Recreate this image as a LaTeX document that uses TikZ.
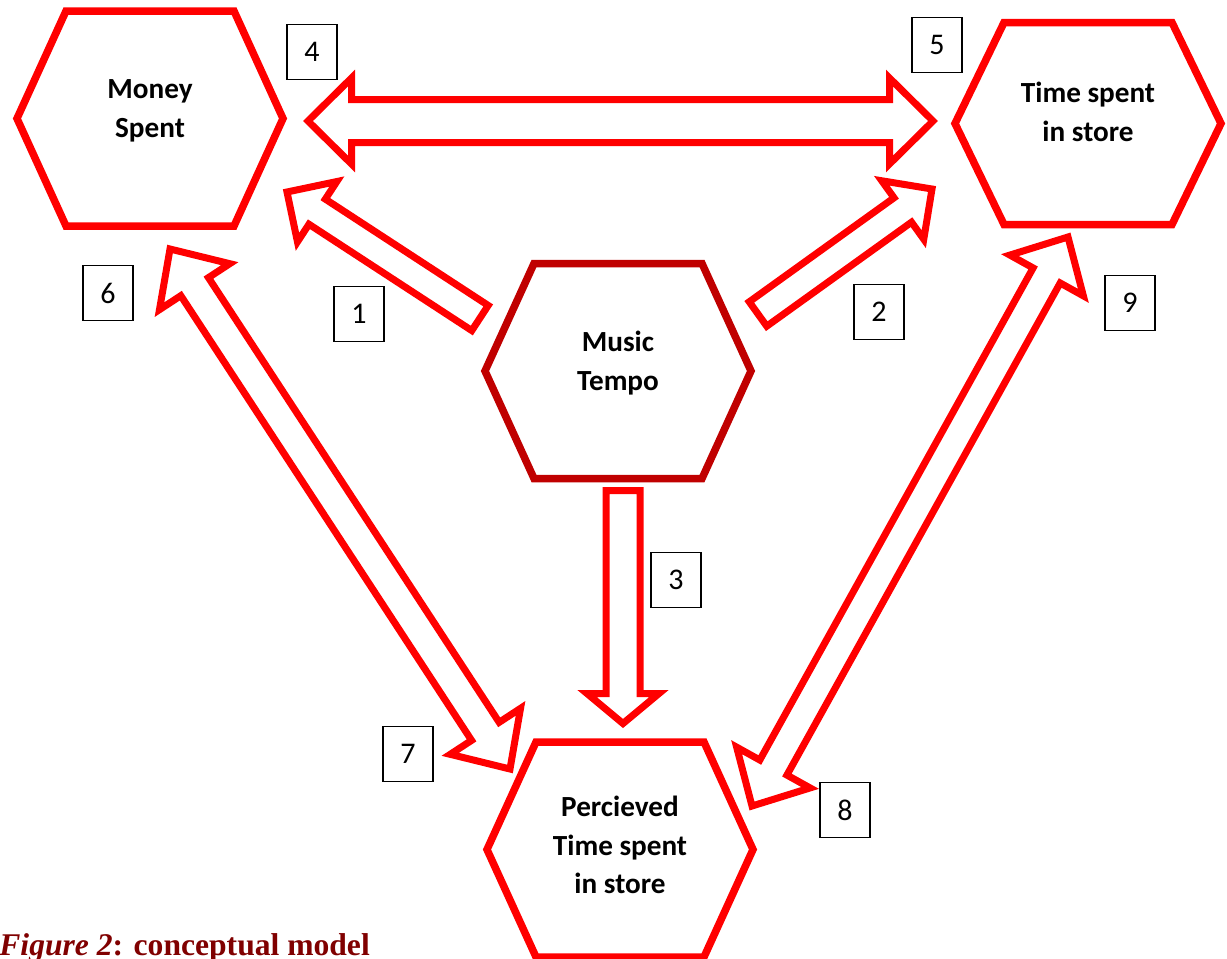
\documentclass[tikz,border=0pt]{standalone}
\usepackage{fontspec}
\setmainfont{Carlito}
\newfontfamily\capfont{Liberation Serif}
\usetikzlibrary{calc}
\definecolor{hexred}{HTML}{FF0000}
\definecolor{darkhex}{HTML}{C00000}
\definecolor{capred}{HTML}{800000}
\tikzset{
  hexline/.style={draw=hexred, line width=3.75pt, fill=white},
  arrline/.style={draw=hexred, line width=3.5pt, fill=white},
  hexlabel/.style={align=center, inner sep=0pt, font=\bfseries\fontsize{14.6}{19.25}\selectfont},
  numbox/.style={draw, line width=0.75pt, minimum width=25pt, minimum height=27.5pt, inner sep=0pt, font=\fontsize{15}{18}\selectfont}
}
\newcommand{\hexagon}[3][hexline]{%
  \draw[#1] (#2) ++(-133,0) -- ++(49,-#3) -- ++(168,0) -- ++(49,#3) -- ++(-49,#3) -- ++(-168,0) -- cycle;}
\newcommand{\blockarrow}[5]{%
  \coordinate (hb) at ($(#2)!#5!(#1)$);
  \draw[arrline] ($(#1)!#3!90:(#2)$) -- ($(hb)!#3!-90:(#1)$) -- ($(hb)!#4!-90:(#1)$) -- (#2)
    -- ($(hb)!#4!90:(#1)$) -- ($(hb)!#3!90:(#1)$) -- ($(#1)!#3!-90:(#2)$) -- cycle;}
\newcommand{\dblarrow}[5]{%
  \coordinate (ha) at ($(#1)!#5!(#2)$);
  \coordinate (hb) at ($(#2)!#5!(#1)$);
  \draw[arrline] ($(ha)!#3!90:(#2)$) -- ($(hb)!#3!-90:(#1)$) -- ($(hb)!#4!-90:(#1)$) -- (#2)
    -- ($(hb)!#4!90:(#1)$) -- ($(hb)!#3!90:(#1)$) -- ($(ha)!#3!-90:(#2)$) -- ($(ha)!#4!-90:(#2)$) -- (#1)
    -- ($(ha)!#4!90:(#2)$) -- cycle;}
\begin{document}
\begin{tikzpicture}[x=0.5pt, y=-0.5pt]
\useasboundingbox (0,0) rectangle (1227,959);
% hexagons
\coordinate (ms) at (150,118.5);
\coordinate (ts) at (1088,123.5);
\coordinate (mt) at (618,371);
\coordinate (pt) at (620,849.5);
\hexagon{ms}{107.5}
\hexagon{ts}{101}
\hexagon[hexline, draw=darkhex]{mt}{107.5}
\hexagon{pt}{107.5}
\node[hexlabel] (money) at (150,111) {Money\\Spent};
\node[hexlabel] (time) at (1088,112) {Time spent\\in store};
\node[hexlabel] (music) at (618,363) {Music\\Tempo};
\node[hexlabel] (perceived) at (620,845) {Percieved\\Time spent\\in store};
% arrow ends
\coordinate (a45s) at (308,121);
\coordinate (a45e) at (933,121);
\coordinate (a1s) at (480,318);
\coordinate (a1e) at (287,192);
\coordinate (a2s) at (758,314);
\coordinate (a2e) at (932,189);
\coordinate (a3s) at (623,490.5);
\coordinate (a3e) at (623,723.5);
\coordinate (a67s) at (170,249);
\coordinate (a67e) at (510,769);
\coordinate (a89s) at (752,806);
\coordinate (a89e) at (1068,237);
\dblarrow{a45s}{a45e}{10.75pt}{21.5pt}{21.75pt}
\blockarrow{a1s}{a1e}{7.5pt}{18pt}{18pt}
\blockarrow{a2s}{a2e}{7.5pt}{18pt}{18pt}
\blockarrow{a3s}{a3e}{8.5pt}{18pt}{15pt}
\dblarrow{a67s}{a67e}{8.25pt}{21pt}{22.5pt}
\dblarrow{a89s}{a89e}{7.75pt}{21pt}{22pt}
% numbers
\node[numbox] (n1) at (359,314) {1};
\node[numbox] (n2) at (879,312) {2};
\node[numbox] (n3) at (676,580) {3};
\node[numbox] (n4) at (312,52) {4};
\node[numbox] (n5) at (937,45) {5};
\node[numbox] (n6) at (108,293) {6};
\node[numbox] (n7) at (408,754) {7};
\node[numbox] (n8) at (845,810) {8};
\node[numbox] (n9) at (1130,303) {9};
\node[anchor=base west, inner sep=0pt, text=capred, font=\capfont\bfseries\fontsize{15.8}{18}\selectfont] (cap) at (-1,955) {\textit{Figure 2}: conceptual model};
\end{tikzpicture}
\end{document}
